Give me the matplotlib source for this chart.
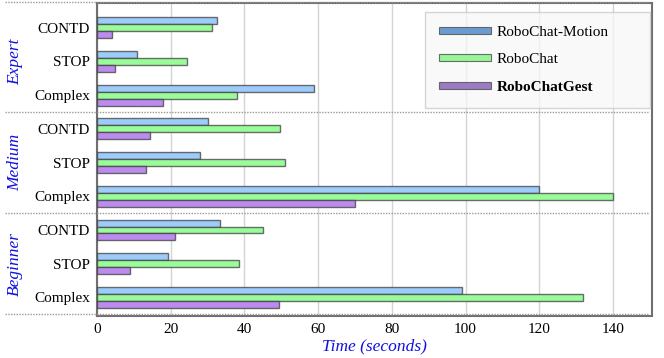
import matplotlib

matplotlib.use("Agg")

import matplotlib.pyplot as plt
import matplotlib.transforms as mtransforms
from matplotlib.patches import Rectangle
import numpy as np

# ========== Data ==========
tasks = ["Complex", "STOP", "CONTD"]
levels = ["Beginner", "Medium", "Expert"]
series = ["RoboChat-Motion", "RoboChat", "RoboChatGest"]

# bottom-to-top: Beginner (Complex, STOP, CONTD), Medium (...), Expert (...)
robochat_motion = [99, 19.3, 33.4, 120, 28, 30, 59, 10.9, 32.6]
robochat = [132, 38.6, 45.1, 140, 51.1, 49.6, 37.9, 24.3, 31.1]
robochat_gest = [49.5, 8.9, 21.1, 70, 13.3, 14.4, 18, 4.9, 4.1]

x_ticks = [0, 20, 40, 60, 80, 100, 120, 140]

bar_colors = ["#9dcbfa", "#9afb9a", "#bb8bed"]
legend_colors = ["#6c9ccf", "#98f598", "#9b7cc4"]

plt.rcParams["font.family"] = ["Liberation Serif", "DejaVu Serif"]

fig = plt.figure(figsize=(6.64, 3.58), dpi=100)
ax = fig.add_axes([97 / 664, 1 - 316 / 358, 555 / 664, 313 / 358])

labels = tasks * len(levels)
y = np.arange(len(labels))
h = 0.207
edge = (0.25, 0.25, 0.25, 0.75)

for offset, vals, col in zip([h, 0, -h], [robochat_motion, robochat, robochat_gest], bar_colors):
    ax.barh(y + offset, vals, height=h, color=col, edgecolor=edge, linewidth=1.0, zorder=3)

ax.set_ylim(-0.55, 8.73)
ax.set_xlim(0, 150.6)
ax.set_yticks(y)
ax.set_yticklabels(labels, fontsize=11)
ax.set_xticks(x_ticks)
ax.set_xticklabels([str(t) for t in x_ticks], fontsize=11)
ax.tick_params(length=0, pad=5)
ax.grid(axis="x", color="#d4d4d4", linewidth=1.0, zorder=0)
ax.set_axisbelow(True)
for sp in ax.spines.values():
    sp.set_color("#707070")
    sp.set_linewidth(1.5)

ax.set_xlabel("Time (seconds)", fontsize=12.5, style="italic", color="#1010e0", labelpad=2)

# group labels and dotted separators
trans = mtransforms.blended_transform_factory(fig.transFigure, ax.transData)
for i, lev in enumerate(levels):
    ax.text(15 / 664, 3 * i + 1, lev, transform=trans, rotation=90, ha="center", va="center",
            fontsize=12.5, style="italic", color="#1010e0")
for ysep in [-0.5, 2.5, 5.5, 8.77]:
    ax.plot([5 / 664, 648 / 664], [ysep, ysep], transform=trans, color="#999999",
            linestyle=(0, (1, 1)), linewidth=1.0, clip_on=False, zorder=5)

# legend
handles = [Rectangle((0, 0), 1, 1, facecolor=c, edgecolor=(0.3, 0.3, 0.3, 0.8), linewidth=0.8)
           for c in legend_colors]
leg = ax.legend(handles, series, loc="upper left",
                bbox_to_anchor=((425 - 97) / 555, 1 - (99 - 3) / 313, (650 - 425) / 555, (99 - 12) / 313),
                mode="expand", borderaxespad=0, fontsize=11, handlelength=3.4, handleheight=0.35,
                labelspacing=0.95, handletextpad=0.4, borderpad=0.9, fancybox=False, framealpha=0.75)
leg.get_frame().set_edgecolor("#c8c8c8")
leg.get_frame().set_facecolor("#f8f8f8")
leg.get_frame().set_linewidth(1.0)
leg.get_texts()[2].set_fontweight("bold")

fig.savefig("out.png", dpi=100)
